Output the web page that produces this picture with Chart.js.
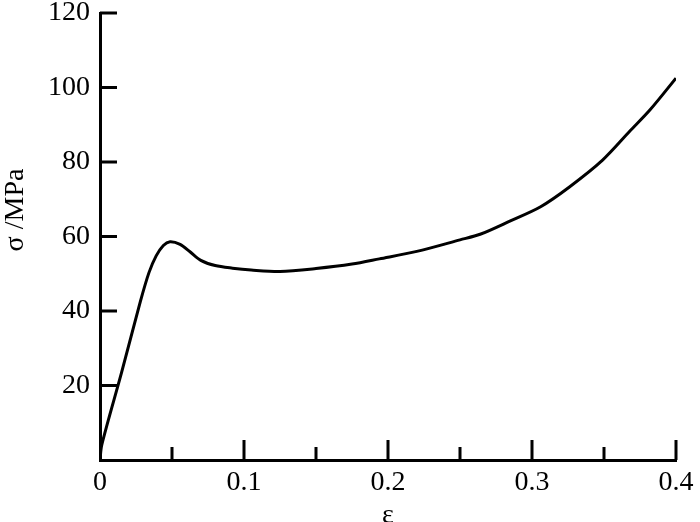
<!DOCTYPE html>
<html>
<head>
<meta charset="utf-8">
<script src="https://cdn.jsdelivr.net/npm/chart.js@4/dist/chart.umd.min.js"></script>
<style>
  html, body { margin: 0; padding: 0; background: #fff; }
  #wrap { width: 700px; height: 522px; }
</style>
</head>
<body>
<div id="wrap"><canvas id="stressChart"></canvas></div>
<script>
// strain values (ε) and stress values (σ, MPa)
const strain = [0, 0.0012, 0.015, 0.028, 0.034, 0.039, 0.044, 0.0486, 0.0556, 0.0625, 0.07, 0.08, 0.092, 0.105, 0.125, 0.15, 0.175, 0.194, 0.22, 0.25, 0.264, 0.285, 0.306, 0.326, 0.349, 0.368, 0.382, 0.4];
const stress = [0, 4, 23.5, 42.5, 50.3, 54.8, 57.6, 58.6, 57.9, 55.9, 53.6, 52.2, 51.5, 51, 50.6, 51.4, 52.6, 54, 56, 59.1, 60.6, 64.2, 68, 73.3, 80.5, 88.3, 94, 102.5];

const xMajorTicks = [0, 0.1, 0.2, 0.3, 0.4];
const xMinorTicks = [0.05, 0.15, 0.25, 0.35];
const yTicks = [0, 20, 40, 60, 80, 100, 120];

const serif = "'Liberation Serif', 'DejaVu Serif', serif";

// ticks point into the plot, so draw them here
const innerTicks = {
    id: "innerTicks",
    afterDatasetsDraw(chart) {
        const ctx = chart.ctx;
        const x = chart.scales.x, y = chart.scales.y;
        const area = chart.chartArea;
        ctx.save();
        ctx.strokeStyle = "#000";
        ctx.lineWidth = 3;
        ctx.beginPath();
        xMajorTicks.forEach(v => {
            if (v === 0) return;
            const px = x.getPixelForValue(v);
            ctx.moveTo(px, area.bottom);
            ctx.lineTo(px, area.bottom - 20);
        });
        xMinorTicks.forEach(v => {
            const px = x.getPixelForValue(v);
            ctx.moveTo(px, area.bottom);
            ctx.lineTo(px, area.bottom - 13);
        });
        yTicks.forEach(v => {
            if (v === 0) return;
            const py = y.getPixelForValue(v);
            ctx.moveTo(area.left, py);
            ctx.lineTo(area.left + 17, py);
        });
        ctx.stroke();

        // y axis title
        ctx.fillStyle = "#000";
        ctx.font = "28px " + serif;
        ctx.translate(16, 210);
        ctx.rotate(-Math.PI / 2);
        ctx.textAlign = "center";
        ctx.textBaseline = "middle";
        ctx.fillText("σ /MPa", 0, 0);
        ctx.restore();
    }
};

const ctx = document.getElementById("stressChart").getContext("2d");
new Chart(ctx, {
    type: "scatter",
    data: {
        datasets: [{
            data: strain.map((e, i) => ({ x: e, y: stress[i] })),
            showLine: true,
            borderColor: "#000",
            borderWidth: 3,
            pointRadius: 0,
            tension: 0.3,
        }]
    },
    options: {
        responsive: true,
        maintainAspectRatio: false,
        animation: false,
        layout: { padding: { top: 13, right: 24, left: 0, bottom: 0 } },
        plugins: { legend: { display: false }, tooltip: { enabled: false } },
        scales: {
            x: {
                type: "linear",
                min: 0,
                max: 0.4,
                afterFit: s => { s.height = 62; },
                afterBuildTicks: s => { s.ticks = xMajorTicks.map(v => ({ value: v })); },
                grid: { display: false, drawTicks: false },
                border: { display: true, color: "#000", width: 3 },
                ticks: {
                    color: "#000",
                    font: { family: serif, size: 28 },
                    padding: 6,
                    maxRotation: 0,
                    callback: v => String(v)
                },
                title: {
                    display: true,
                    text: "ε",
                    color: "#000",
                    font: { family: serif, size: 28 },
                    padding: { top: 0, bottom: -10 }
                }
            },
            y: {
                min: 0,
                max: 120,
                afterFit: s => { s.width = 100; s.paddingTop = 0; s.paddingBottom = 0; },
                afterBuildTicks: s => { s.ticks = yTicks.map(v => ({ value: v })); },
                grid: { display: false, drawTicks: false },
                border: { display: true, color: "#000", width: 3 },
                ticks: {
                    color: "#000",
                    font: { family: serif, size: 28 },
                    padding: 10,
                    callback: v => v === 0 ? "" : String(v)
                }
            }
        }
    },
    plugins: [innerTicks]
});
</script>
</body>
</html>
